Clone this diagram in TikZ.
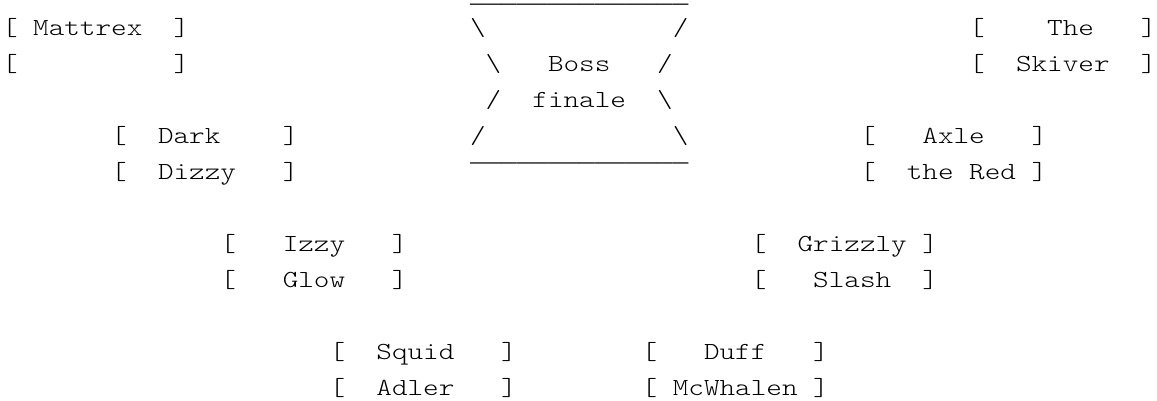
\documentclass[tikz,border=0pt]{standalone}
\usepackage{fontspec}
\newfontfamily\barfont{Liberation Mono}
\newfontfamily\courfont{lmmonolt10-regular}[Extension=.otf, FakeStretch=1.2128]
\newcommand\xo{2}
\newcommand\putcell[5][txt]{\node[#1] (#2) at ({\xo+15.6*#3},{-35-36*(#4-1)}) {#5};}
\begin{document}
\begin{tikzpicture}[x=1pt,y=1pt,
  txt/.style={inner sep=0pt, outer sep=0pt, anchor=base west, text=black,
    font=\courfont\fontsize{24.5}{30}\selectfont},
  bar/.style={txt, yshift=-3pt, font=\barfont\fontsize{26}{30}\selectfont}]
\useasboundingbox[fill=white] (0,0) rectangle (1157,-400);
% boss shape
\putcell[bar]{top}{30}{0}{\_\_\_\_\_\_\_\_\_\_\_\_\_\_}
\putcell{l1}{30}{1}{\textbackslash}
\putcell{r1}{43}{1}{/}
\putcell{l2}{31}{2}{\textbackslash}
\putcell{boss}{35}{2}{Boss}
\putcell{r2}{42}{2}{/}
\putcell{l3}{31}{3}{/}
\putcell{finale}{34}{3}{finale}
\putcell{r3}{42}{3}{\textbackslash}
\putcell{l4}{30}{4}{/}
\putcell{r4}{43}{4}{\textbackslash}
\putcell[bar]{bot}{30}{5}{‾‾‾‾‾‾‾‾‾‾‾‾‾‾}
% boxes
\putcell{mat1}{0}{1}{[~Mattrex~~]}
\putcell{mat2}{0}{2}{[~~~~~~~~~~]}
\putcell{the1}{62}{1}{[~~~~The~~~]}
\putcell{the2}{62}{2}{[~~Skiver~~]}
\putcell{dark1}{7}{4}{[~~Dark~~~~]}
\putcell{dark2}{7}{5}{[~~Dizzy~~~]}
\putcell{axle1}{55}{4}{[~~~Axle~~~]}
\putcell{axle2}{55}{5}{[~~the~Red~]}
\putcell{izzy1}{14}{7}{[~~~Izzy~~~]}
\putcell{izzy2}{14}{8}{[~~~Glow~~~]}
\putcell{griz1}{48}{7}{[~~Grizzly~]}
\putcell{griz2}{48}{8}{[~~~Slash~~]}
\putcell{squid1}{21}{10}{[~~Squid~~~]}
\putcell{squid2}{21}{11}{[~~Adler~~~]}
\putcell{duff1}{41}{10}{[~~~Duff~~~]}
\putcell{duff2}{41}{11}{[~McWhalen~]}
\end{tikzpicture}
\end{document}
